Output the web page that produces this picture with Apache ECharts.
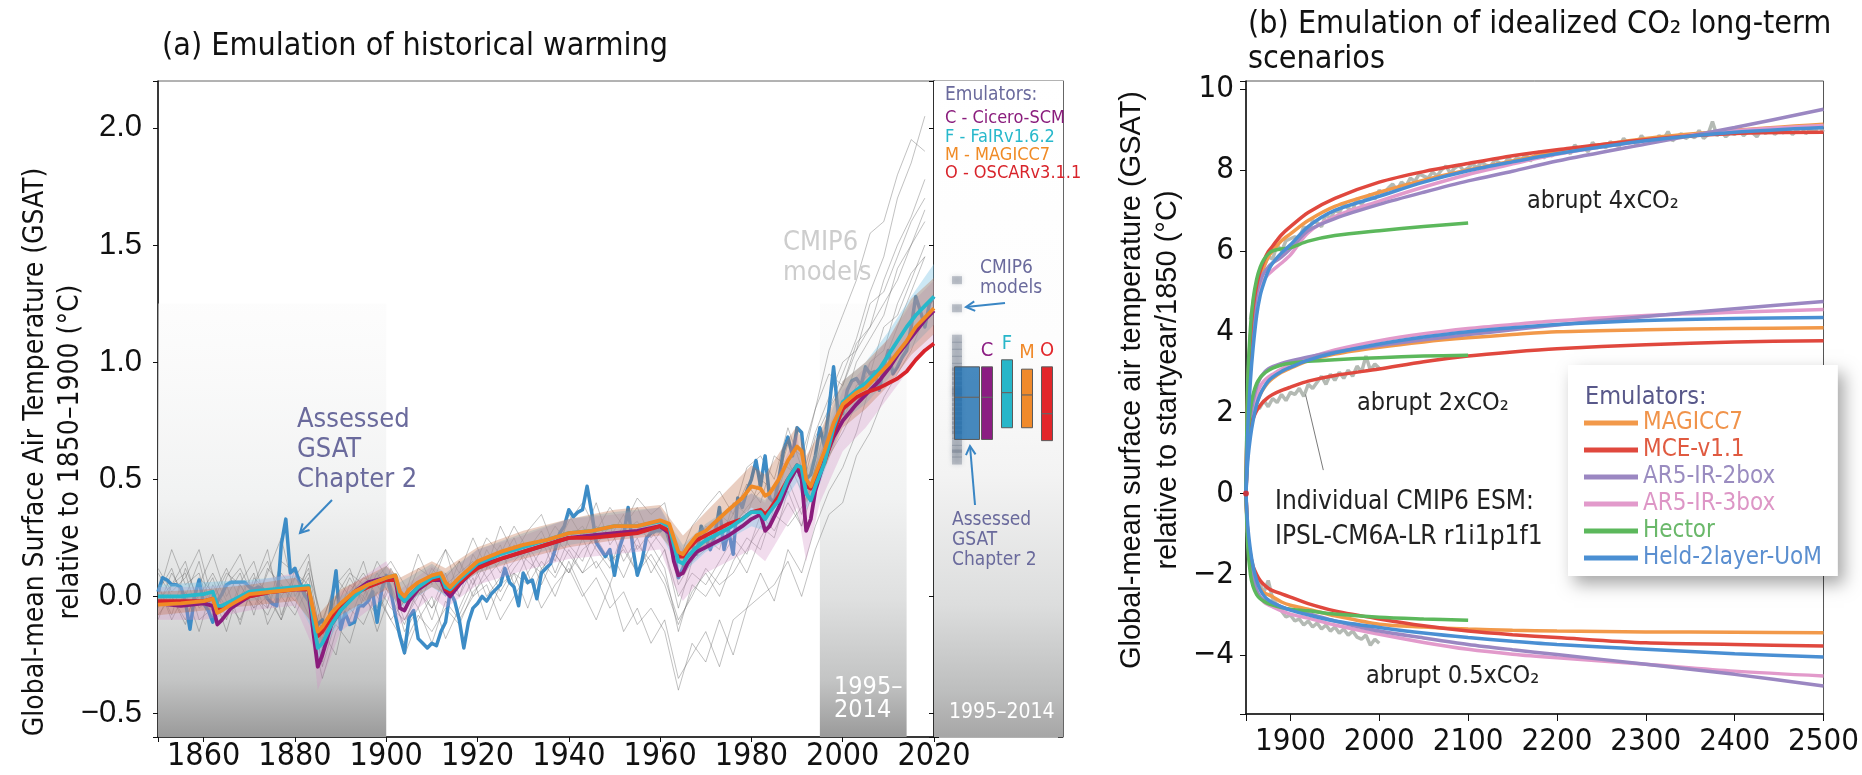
<!DOCTYPE html>
<html><head><meta charset="utf-8">
<script src="https://cdn.jsdelivr.net/npm/echarts@6/dist/echarts.min.js"></script>
<style>html,body{margin:0;padding:0;background:#fff}#c{width:1862px;height:775px}</style>
</head><body><div id="c"></div>
<script>
// ---------------- Panel (a) data ----------------
const cmipYears = [1850,1853,1856,1859,1862,1865,1868,1871,1874,1877,1880,1883,1886,1889,1892,1895,1898,1901,1904,1907,1910,1913,1916,1919,1922,1925,1928,1931,1934,1937,1940,1943,1946,1949,1952,1955,1958,1961,1964,1967,1970,1973,1976,1979,1982,1985,1988,1991,1994,1997,2000,2003,2006,2009,2012,2015,2018];
const cmipModel1 = [0.05,-0.08,0.12,-0.02,0.08,-0.1,0.06,0.15,-0.05,0.1,0.02,0.12,-0.22,-0.05,0.08,-0.02,0.1,0.0,-0.12,0.05,-0.05,0.1,-0.08,0.05,0.15,0.02,0.12,0.2,0.05,0.18,0.1,0.25,0.12,0.2,0.08,0.22,0.15,0.05,-0.12,0.02,0.1,0.0,0.15,0.25,0.2,0.38,0.5,0.35,0.55,0.8,0.95,1.1,1.3,1.45,1.7,1.85,2.05];
const cmipModel2 = [-0.05,0.1,0.0,0.15,-0.08,0.05,-0.12,0.08,0.02,-0.1,0.12,-0.02,-0.28,0.0,-0.1,0.05,-0.15,0.02,-0.25,-0.1,0.0,-0.18,-0.05,0.08,-0.1,0.05,0.1,-0.05,0.12,0.0,0.15,0.02,-0.1,0.05,-0.15,-0.05,-0.2,-0.1,-0.35,-0.25,-0.15,-0.3,-0.1,-0.05,0.1,-0.02,0.2,0.1,0.3,0.45,0.55,0.7,0.9,1.0,1.15,1.3,1.45];
const cmipModel3 = [0.1,0.0,-0.1,0.05,0.18,0.0,0.1,-0.08,0.12,0.05,-0.05,0.15,-0.12,0.08,0.0,0.15,-0.05,0.12,0.0,0.18,0.05,0.2,0.1,0.25,0.12,0.3,0.18,0.28,0.35,0.2,0.32,0.4,0.28,0.38,0.3,0.42,0.35,0.4,0.15,0.3,0.38,0.45,0.35,0.55,0.6,0.5,0.72,0.55,0.8,0.95,0.9,1.05,1.15,1.25,1.35,1.5,1.6];
const cmipModel4 = [-0.1,0.05,0.15,-0.05,0.0,0.12,-0.02,0.05,0.2,-0.08,0.08,0.0,-0.15,-0.25,0.02,0.1,0.0,-0.1,-0.02,0.12,0.08,0.0,0.15,0.05,0.2,0.1,0.22,0.15,0.1,0.25,0.18,0.1,0.22,0.3,0.15,0.25,0.1,0.2,0.0,0.1,0.05,0.15,0.25,0.18,0.35,0.28,0.4,0.3,0.48,0.65,0.75,0.9,0.95,1.15,1.2,1.35,1.5];
const cmipModel5 = [0.0,0.2,0.05,0.1,-0.1,0.08,0.18,0.0,-0.05,0.15,0.1,0.05,-0.3,-0.1,0.05,0.0,0.15,0.05,-0.1,0.0,0.12,0.05,0.0,0.18,0.08,0.15,0.25,0.1,0.2,0.3,0.22,0.15,0.3,0.25,0.35,0.2,0.28,0.2,-0.05,0.15,0.25,0.2,0.4,0.35,0.5,0.45,0.65,0.6,0.8,1.05,1.2,1.35,1.55,1.6,1.8,1.95,1.9];
const cmipModel6 = [0.05,-0.1,0.02,-0.15,0.05,-0.05,0.0,0.1,-0.12,0.0,-0.08,0.05,-0.2,-0.12,-0.2,0.0,-0.08,0.05,-0.15,-0.05,-0.2,-0.02,-0.1,0.0,0.05,-0.1,0.0,0.1,-0.05,0.05,0.12,0.0,0.08,-0.05,0.02,-0.12,-0.05,-0.15,-0.4,-0.2,-0.28,-0.1,-0.25,-0.05,0.0,0.05,0.15,0.0,0.2,0.35,0.4,0.6,0.7,0.85,0.95,1.05,1.2];
const cmipModel7 = [0.12,0.02,0.08,0.2,-0.02,0.1,0.05,-0.05,0.1,0.25,0.0,0.1,-0.1,0.05,0.12,-0.05,0.08,0.15,0.05,-0.05,0.1,0.2,0.0,0.12,0.25,0.18,0.3,0.2,0.28,0.15,0.35,0.25,0.4,0.22,0.3,0.38,0.25,0.32,0.1,0.2,0.3,0.25,0.35,0.48,0.4,0.6,0.55,0.5,0.7,0.85,1.0,1.05,1.25,1.3,1.45,1.6,1.7];
const cmipModel8 = [-0.08,0.0,-0.12,0.08,0.02,-0.15,0.05,-0.05,0.0,-0.1,0.05,-0.08,-0.35,-0.15,-0.05,-0.12,0.02,-0.1,-0.2,-0.08,-0.15,-0.05,-0.12,0.02,0.08,-0.02,0.1,0.05,0.15,0.08,0.2,0.1,0.15,0.05,0.22,0.1,0.18,0.08,-0.1,0.0,0.12,0.05,0.1,0.2,0.3,0.25,0.45,0.3,0.55,0.7,0.8,1.0,1.1,1.2,1.4,1.5,1.65];
const cmipModel9 = [0.02,0.12,-0.05,0.0,0.1,-0.02,-0.1,0.05,0.15,0.0,0.08,0.18,-0.18,0.0,0.1,0.05,-0.08,0.08,-0.05,0.05,-0.1,0.08,0.15,0.0,0.12,0.22,0.05,0.18,0.25,0.1,0.25,0.3,0.2,0.12,0.28,0.32,0.22,0.3,0.05,0.15,0.2,0.35,0.3,0.38,0.45,0.4,0.58,0.45,0.68,0.8,0.9,1.08,1.15,1.35,1.5,1.62,1.78];
const cmipModel10 = [-0.02,0.05,0.1,-0.1,-0.05,0.05,0.12,0.0,-0.08,0.05,-0.02,0.08,-0.25,-0.08,0.0,0.08,0.05,-0.05,-0.1,0.02,-0.05,0.05,0.1,0.15,0.0,0.08,0.15,0.22,0.12,0.18,0.1,0.2,0.25,0.15,0.2,0.1,0.22,0.12,-0.15,0.05,0.0,0.1,0.2,0.1,0.25,0.35,0.3,0.38,0.5,0.6,0.7,0.82,1.0,1.05,1.25,1.38,1.45];
const cmipModels = [cmipModel1,cmipModel2,cmipModel3,cmipModel4,cmipModel5,cmipModel6,cmipModel7,cmipModel8,cmipModel9,cmipModel10];

// Assessed GSAT (Chapter 2), annual from 1850
const gsatStartYear = 1850;
const gsatValues = [
 0.02,0.08,0.07,0.05,0.05,0.04,-0.02,-0.14,0.0,0.07,
 -0.03,-0.06,-0.11,-0.02,0.01,0.05,0.06,0.06,0.06,0.06,
 0.04,0.03,0.04,0.03,-0.01,-0.03,-0.04,0.22,0.33,0.1,
 0.12,0.06,0.01,-0.02,-0.1,-0.12,-0.1,-0.16,-0.03,0.11,
 -0.14,-0.07,-0.12,-0.11,-0.04,-0.04,-0.02,0.02,-0.11,0.03,
 0.09,0.02,-0.08,-0.17,-0.24,-0.09,-0.06,-0.18,-0.2,-0.22,
 -0.2,-0.21,-0.15,-0.11,0.02,-0.02,-0.1,-0.22,-0.11,-0.05,
 -0.03,0.0,-0.02,0.01,0.03,0.05,0.12,0.06,0.04,-0.04,
 0.1,0.06,0.07,-0.01,0.1,0.12,0.14,0.2,0.27,0.3,
 0.37,0.34,0.36,0.37,0.47,0.36,0.23,0.2,0.17,0.2,
 0.09,0.2,0.26,0.38,0.21,0.09,0.15,0.25,0.27,0.28,
 0.28,0.3,0.24,0.2,0.08,0.12,0.2,0.22,0.18,0.3,
 0.25,0.2,0.26,0.38,0.2,0.28,0.18,0.42,0.38,0.45,
 0.5,0.58,0.47,0.6,0.42,0.4,0.5,0.62,0.68,0.6,
 0.72,0.7,0.5,0.52,0.6,0.72,0.64,0.8,0.98,0.78,
 0.78,0.88,0.92,0.93,0.9,0.98,0.95,0.96,0.88,0.98,
 1.05,0.95,0.98,1.02,1.05,1.15,1.28,1.22,1.15,1.25,
 1.28];

// Emulator medians (panel a)
const emuYears = [1850,1855,1860,1862,1863,1864,1866,1870,1875,1880,1883,1884,1885,1886,1888,1890,1893,1896,1900,1902,1903,1904,1905,1907,1910,1912,1913,1914,1916,1920,1925,1930,1935,1940,1945,1950,1955,1960,1962,1963,1964,1965,1966,1968,1970,1975,1978,1980,1982,1983,1984,1986,1988,1990,1991,1992,1993,1994,1996,1998,2000,2003,2005,2008,2010,2012,2014,2016,2018,2020];
const magicc7Hist = [-0.035,-0.03,-0.02,-0.01,-0.07,-0.06,-0.035,0.01,0.02,0.03, 0.035,-0.06,-0.15,-0.13,-0.07,-0.03,0.02,0.05,0.08,0.09, 0.02,0.0,0.03,0.06,0.09,0.1,0.06,0.04,0.08,0.15, 0.19,0.22,0.24,0.27,0.28,0.3,0.3,0.325,0.31,0.25, 0.19,0.18,0.21,0.26,0.28,0.37,0.42,0.47,0.46,0.43, 0.44,0.5,0.58,0.64,0.62,0.5,0.47,0.52,0.62,0.74, 0.82,0.87,0.89,0.95,0.99,1.04,1.09,1.15,1.19,1.23];
const fairHist = [0.0,0.0,0.01,0.02,-0.04,-0.04,-0.02,0.02,0.03,0.04, 0.045,-0.1,-0.22,-0.2,-0.12,-0.06,0.0,0.05,0.08,0.09, 0.0,-0.02,0.0,0.04,0.08,0.09,0.04,0.03,0.07,0.14, 0.18,0.21,0.24,0.27,0.28,0.3,0.3,0.32,0.3,0.22, 0.15,0.14,0.17,0.21,0.24,0.29,0.33,0.36,0.36,0.33, 0.36,0.41,0.5,0.56,0.55,0.44,0.41,0.47,0.57,0.72, 0.83,0.88,0.91,0.97,1.03,1.09,1.15,1.2,1.24,1.28];
const ciceroHist = [-0.03,-0.04,-0.03,-0.04,-0.12,-0.1,-0.05,0.0,0.02,0.03, 0.03,-0.15,-0.3,-0.25,-0.12,-0.06,0.02,0.06,0.08,0.08, -0.05,-0.06,-0.02,0.03,0.07,0.07,0.02,0.0,0.05,0.13, 0.16,0.19,0.22,0.25,0.26,0.27,0.28,0.3,0.27,0.15, 0.09,0.1,0.14,0.19,0.21,0.26,0.3,0.33,0.35,0.28, 0.3,0.38,0.48,0.55,0.5,0.28,0.33,0.45,0.58,0.68, 0.75,0.82,0.86,0.92,0.97,1.03,1.08,1.13,1.18,1.22];
const oscarHist = [-0.02,-0.02,-0.02,-0.01,-0.05,-0.05,-0.03,0.0,0.02,0.03, 0.03,-0.08,-0.17,-0.15,-0.09,-0.04,0.01,0.04,0.07,0.07, 0.0,-0.02,0.0,0.04,0.07,0.08,0.03,0.02,0.06,0.12, 0.16,0.19,0.22,0.25,0.25,0.26,0.27,0.3,0.28,0.22, 0.17,0.17,0.2,0.24,0.26,0.31,0.33,0.36,0.37,0.35, 0.37,0.43,0.5,0.56,0.54,0.47,0.46,0.5,0.57,0.7, 0.8,0.85,0.87,0.89,0.91,0.93,0.96,1.01,1.05,1.08];

// Emulator uncertainty ranges (panel a)
const bandYears = [1850,1860,1870,1880,1884,1885,1890,1900,1903,1910,1913,1920,1930,1940,1950,1960,1963,1965,1970,1980,1983,1990,1992,1995,2000,2005,2010,2015,2020];
const fairLow  = [-0.04,-0.03,-0.02,0.0,-0.15,-0.27,-0.1,0.04,-0.05,0.04,0.0,0.1,0.17,0.22,0.25,0.27,0.16,0.1,0.19,0.3,0.28,0.49,0.37,0.48,0.75,0.82,0.93,1.06,1.16];
const fairHigh = [0.05,0.06,0.07,0.09,-0.04,-0.15,0.0,0.13,0.06,0.14,0.1,0.2,0.27,0.33,0.36,0.38,0.28,0.22,0.31,0.44,0.41,0.65,0.53,0.65,0.92,1.0,1.13,1.28,1.42];
const magiccLow  = [-0.08,-0.06,-0.04,-0.02,-0.12,-0.22,-0.08,0.03,-0.04,0.04,0.01,0.1,0.16,0.21,0.24,0.26,0.19,0.12,0.21,0.38,0.35,0.54,0.4,0.5,0.72,0.8,0.9,1.03,1.12];
const magiccHigh = [0.02,0.03,0.05,0.08,0.0,-0.08,0.03,0.13,0.08,0.15,0.12,0.21,0.28,0.33,0.37,0.39,0.31,0.26,0.36,0.56,0.52,0.73,0.6,0.7,0.92,1.0,1.1,1.27,1.36];
const ciceroLow  = [-0.1,-0.1,-0.06,-0.04,-0.22,-0.4,-0.15,0.0,-0.12,0.0,-0.05,0.05,0.11,0.16,0.18,0.2,0.05,-0.02,0.1,0.2,0.15,0.38,0.15,0.4,0.62,0.72,0.85,0.98,1.08];
const ciceroHigh = [0.04,0.04,0.06,0.1,-0.05,-0.2,0.02,0.15,0.03,0.13,0.09,0.2,0.26,0.33,0.35,0.38,0.26,0.2,0.3,0.44,0.4,0.7,0.42,0.62,0.88,0.98,1.1,1.25,1.35];
const shadePeriods = [[1850,1900],[1995,2014]];

// Inset: 1995-2014 warming
const insetBoxNames = ['Assessed','C','F','M','O'];
const insetBoxLow  = [0.67,0.67,0.72,0.72,0.665];
const insetBoxMed  = [0.85,0.85,0.87,0.86,0.78];
const insetBoxHigh = [0.98,0.98,1.01,0.97,0.98];
const cmip6Warming = [1.35,1.23,1.1,1.07,1.04,1.01,0.98,0.96,0.94,0.92,0.9,0.88,0.87,0.85,0.83,0.81,0.79,0.77,0.75,0.73,0.71,0.69,0.66,0.63,0.61,0.58];

// ---------------- Panel (b) data ----------------
const idealYears = [1850,1852,1855,1858,1862,1866,1870,1875,1880,1890,1900,1920,1950,2000,2050,2100,2150,2200,2300,2400,2500];
const magicc4x = [0,2.4,3.7,4.4,5.0,5.35,5.6,5.85,6.0,6.25,6.42,6.75,7.1,7.45,7.75,8.0,8.22,8.45,8.78,8.98,9.13];
const mce4x    = [0,2.6,3.9,4.6,5.15,5.5,5.75,5.98,6.12,6.4,6.6,6.95,7.3,7.7,7.96,8.16,8.35,8.5,8.75,8.9,8.93];
const ar5two4x = [0,2.3,3.6,4.3,4.95,5.25,5.45,5.6,5.7,5.85,6.05,6.5,6.8,7.15,7.45,7.73,7.97,8.22,8.64,9.05,9.5];
const ar5three4x = [0,2.2,3.5,4.2,4.8,5.1,5.28,5.42,5.52,5.7,5.9,6.45,6.85,7.23,7.58,7.89,8.15,8.39,8.72,8.97,9.1];
const hector4x = [0,2.8,4.1,4.8,5.3,5.6,5.78,5.92,6.0,6.05,6.08,6.24,6.38,6.5,6.6,6.69];
const held4x   = [0,1.6,2.8,3.6,4.4,4.9,5.2,5.5,5.7,5.95,6.15,6.6,7.0,7.35,7.7,7.98,8.2,8.4,8.72,8.93,9.05];
const magicc2x = [0,1.0,1.6,1.95,2.25,2.45,2.6,2.75,2.85,3.0,3.1,3.28,3.45,3.62,3.75,3.85,3.93,4.0,4.05,4.08,4.1];
const mce2x    = [0,1.1,1.6,1.85,2.05,2.18,2.28,2.38,2.45,2.55,2.63,2.78,2.92,3.08,3.26,3.4,3.5,3.58,3.68,3.75,3.78];
const ar5two2x = [0,1.2,1.9,2.3,2.65,2.85,2.98,3.08,3.14,3.22,3.28,3.38,3.5,3.66,3.8,3.93,4.05,4.17,4.38,4.57,4.75];
const ar5three2x = [0,1.0,1.7,2.1,2.45,2.65,2.78,2.88,2.95,3.08,3.18,3.35,3.55,3.78,3.95,4.08,4.18,4.27,4.4,4.48,4.55];
const hector2x = [0,1.4,2.1,2.45,2.72,2.87,2.96,3.04,3.1,3.18,3.22,3.27,3.31,3.36,3.4,3.42];
const held2x   = [0,0.8,1.4,1.8,2.2,2.45,2.62,2.78,2.88,3.02,3.12,3.3,3.48,3.7,3.87,4.0,4.1,4.18,4.28,4.33,4.35];
const magicc05x = [0,-1.0,-1.6,-1.95,-2.2,-2.35,-2.45,-2.5,-2.55,-2.68,-2.76,-2.86,-3.02,-3.23,-3.3,-3.35,-3.38,-3.4,-3.42,-3.43,-3.44];
const mce05x    = [0,-1.0,-1.5,-1.8,-2.0,-2.15,-2.25,-2.34,-2.4,-2.48,-2.56,-2.72,-2.9,-3.1,-3.27,-3.4,-3.49,-3.56,-3.69,-3.73,-3.77];
const ar5two05x = [0,-1.1,-1.75,-2.1,-2.4,-2.55,-2.63,-2.68,-2.7,-2.8,-2.87,-2.97,-3.15,-3.4,-3.57,-3.73,-3.86,-3.98,-4.22,-4.47,-4.76];
const ar5three05x = [0,-1.0,-1.7,-2.1,-2.4,-2.58,-2.68,-2.75,-2.8,-2.9,-2.98,-3.08,-3.25,-3.48,-3.68,-3.85,-3.97,-4.06,-4.22,-4.39,-4.51];
const hector05x = [0,-1.3,-2.0,-2.3,-2.5,-2.6,-2.66,-2.72,-2.76,-2.82,-2.86,-2.9,-2.98,-3.06,-3.1,-3.13];
const held05x   = [0,-0.8,-1.4,-1.8,-2.15,-2.38,-2.52,-2.63,-2.7,-2.8,-2.88,-3.0,-3.15,-3.31,-3.45,-3.56,-3.65,-3.73,-3.85,-3.96,-4.04];

// IPSL-CM6A-LR r1i1p1f1, 5-year values starting 1855
const ipslStartYear = 1855, ipslStep = 5;
const ipsl4x = [4.3,5.0,5.5,5.6,5.85,5.8,6.15,6.0,6.25,6.3, 6.35,6.3,6.6,6.45,6.75,6.7,6.6,6.9,6.8,7.0, 6.95,7.15,7.05,7.0,7.3,7.15,7.3,7.4,7.28,7.5, 7.4,7.55,7.65,7.5,7.7,7.6,7.8,7.72,7.9,7.85, 7.8,7.95,7.85,8.0,8.1,7.92,8.05,8.12,7.98,8.05, 8.15,8.05,8.2,8.12,8.08,8.25,8.18,8.12,8.3,8.2, 8.3,8.25,8.38,8.22,8.35,8.45,8.3,8.4,8.35,8.5, 8.42,8.5,8.4,8.62,8.48,8.55,8.45,8.68,8.55,8.62, 8.55,8.7,8.62,8.58,8.78,8.65,8.72,8.62,8.85,8.72, 8.78,8.7,8.85,8.76,8.95,8.72,8.82,8.9,8.78,8.85, 8.8,8.98,8.78,8.88,9.2,8.85,8.95,8.82,8.92,8.88, 8.98,8.85,8.95,8.92,8.82,9.0,8.9,9.05,8.88,8.96, 8.92,9.02,8.88,8.98,9.05,8.9,9.0,8.95,9.08,8.94];
const ipsl2x = [1.8,2.2,2.1,2.3,2.15,2.35,2.25,2.45,2.3,2.5,2.45,2.6,2.4,2.7,2.6,2.75,2.9,2.7,2.95,2.8,3.0,2.85,3.05,2.9,3.15,3.0,3.4,3.05,3.2,3.1];
const ipsl05x = [-1.9,-2.3,-2.2,-2.45,-2.15,-2.6,-2.75,-2.9,-3.05,-3.0,-3.15,-3.1,-3.25,-3.15,-3.3,-3.2,-3.35,-3.25,-3.4,-3.3,-3.45,-3.35,-3.5,-3.4,-3.55,-3.6,-3.5,-3.75,-3.6,-3.7];

// ---------------- styling ----------------
const NARROW = "'Liberation Sans Narrow','Arial Narrow','DejaVu Sans Condensed',sans-serif";
const REG = "'Liberation Sans',Arial,'DejaVu Sans',sans-serif";
const A_YMIN = -0.6, A_YMAX = 2.2, B_YMIN = -5.45, B_YMAX = 10.2;
const SLATE = '#6a6a9c';

const emuColorsA = {cicero:'#8a1c7c', fair:'#27b8cb', magicc:'#f08a24', oscar:'#d8232a', gsat:'#3d8cc6'};
const emuB = [
  {name:'MAGICC7', color:'#f2994a', text:'#f0934a', d:[magicc4x,magicc2x,magicc05x]},
  {name:'AR5-IR-3box', color:'#e29acb', text:'#dd96c6', d:[ar5three4x,ar5three2x,ar5three05x]},
  {name:'AR5-IR-2box', color:'#9b87c2', text:'#9a8cc0', d:[ar5two4x,ar5two2x,ar5two05x]},
  {name:'MCE-v1.1', color:'#e0483e', text:'#e05a40', d:[mce4x,mce2x,mce05x]},
  {name:'Hector', color:'#5cb85c', text:'#6ab86a', d:[hector4x,hector2x,hector05x]},
  {name:'Held-2layer-UoM', color:'#4a8fd3', text:'#5b8fd0', d:[held4x,held2x,held05x]}
];
const legendOrder = ['MAGICC7','MCE-v1.1','AR5-IR-2box','AR5-IR-3box','Hector','Held-2layer-UoM'];

const pairs = (xs, ys) => ys.map((v, i) => [xs[i], v]);
const minus = v => (v < 0 ? '\u2212' : '') + Math.abs(v);

const series = [];
// background shading (panel a)
series.push({
  type:'line', xAxisIndex:0, yAxisIndex:0, data:[[1850,-5]], showSymbol:false, silent:true,
  lineStyle:{opacity:0},
  markArea:{silent:true, z:1,
    itemStyle:{color: new echarts.graphic.LinearGradient(0,0,0,1,[
      {offset:0,color:'rgba(250,250,250,0.5)'},{offset:0.45,color:'#f1f2f2'},{offset:0.68,color:'#dfe0e0'},
      {offset:0.87,color:'#c3c4c4'},{offset:1,color:'#9a9a9a'}])},
    data: shadePeriods.map(p => [{xAxis:p[0], yAxis:1.25},{xAxis:p[1], yAxis:A_YMIN}])
  }
});
// CMIP6 models
cmipModels.forEach((m, k) => series.push({
  name:'CMIP6 model ' + (k+1), type:'line', xAxisIndex:0, yAxisIndex:0, data:pairs(cmipYears, m),
  showSymbol:false, silent:true, z:2, lineStyle:{color:'rgba(100,100,100,0.4)', width:1}
}));
// Assessed GSAT
series.push({name:'Assessed GSAT', type:'line', xAxisIndex:0, yAxisIndex:0,
  data: gsatValues.map((v,i) => [gsatStartYear + i, v]), showSymbol:false, silent:true, z:3,
  lineStyle:{color:emuColorsA.gsat, width:3.5, join:'round'}});
// uncertainty bands, drawn as one polygon each through the axes' scales
function band(id, low, high, color){
  series.push({name:id, type:'custom', xAxisIndex:0, yAxisIndex:0, z:4, silent:true,
    data: bandYears.map((y,i) => [y, low[i], high[i]]),
    renderItem: function(params, api){
      if (params.dataIndex !== 0) return null;
      const top = bandYears.map((y,i) => api.coord([y, high[i]]));
      const bot = bandYears.map((y,i) => api.coord([y, low[i]])).reverse();
      return {type:'polygon', shape:{points: top.concat(bot)}, style:{fill:color}};
    }});
}
band('bandCicero', ciceroLow, ciceroHigh, 'rgba(210,140,195,0.30)');
band('bandFair', fairLow, fairHigh, 'rgba(120,195,228,0.38)');
band('bandMagicc', magiccLow, magiccHigh, 'rgba(190,105,65,0.32)');
// emulator medians
[['Cicero-SCM', ciceroHist, emuColorsA.cicero],['OSCARv3.1.1', oscarHist, emuColorsA.oscar],
 ['FaIRv1.6.2', fairHist, emuColorsA.fair],['MAGICC7 hist', magicc7Hist, emuColorsA.magicc]].forEach((e,k) =>
  series.push({name:e[0], type:'line', xAxisIndex:0, yAxisIndex:0, data:pairs(emuYears, e[1]),
    showSymbol:false, silent:true, z:5+k, lineStyle:{color:e[2], width:3.8, join:'round'}}));

// inset background
series.push({type:'line', xAxisIndex:1, yAxisIndex:2, data:[[0,-5]], showSymbol:false, silent:true, lineStyle:{opacity:0},
  markArea:{silent:true, z:1, itemStyle:{color:new echarts.graphic.LinearGradient(0,0,0,1,[
    {offset:0,color:'#ffffff'},{offset:0.4,color:'#fdfdfd'},{offset:0.6,color:'#f3f3f3'},{offset:0.8,color:'#dcdddd'},
    {offset:0.93,color:'#bdbebe'},{offset:1,color:'#a6a6a6'}])},
    data:[[{yAxis:A_YMAX},{yAxis:A_YMIN}]]}});
// CMIP6 dots
series.push({name:'CMIP6 1995-2014', type:'scatter', xAxisIndex:1, yAxisIndex:2, z:3, silent:true,
  data: cmip6Warming.map(v => [0, v]), symbol:'rect', symbolSize:[10,8], symbolOffset:[-10,0],
  itemStyle:{color:'rgba(95,105,125,0.45)', shadowBlur:5, shadowColor:'rgba(90,100,120,0.6)'}});
// boxes
const boxColors = ['rgba(31,111,176,0.82)', '#8b1d82', '#27b6c9', '#f08a2b', '#e2262a'];
series.push({name:'Ranges 1995-2014', type:'custom', xAxisIndex:1, yAxisIndex:2, z:4, silent:true,
  data: insetBoxNames.map((n,i) => [i, insetBoxLow[i], insetBoxMed[i], insetBoxHigh[i]]),
  renderItem: function(params, api){
    const i = api.value(0);
    const pHi = api.coord([i, api.value(3)]), pLo = api.coord([i, api.value(1)]), pMed = api.coord([i, api.value(2)]);
    const w = i === 0 ? 25 : 11;
    const col = boxColors[params.dataIndex];
    const ch = [
      {type:'rect', shape:{x:pHi[0]-w/2, y:pHi[1], width:w, height:pLo[1]-pHi[1]}, style:{fill:col, stroke:'#5a5a5a', lineWidth:1}},
      {type:'line', shape:{x1:pHi[0]-w/2, y1:pMed[1], x2:pHi[0]+w/2, y2:pMed[1]}, style:{stroke:'#666', lineWidth:1.2}}
    ];
    if (i > 0) ch.push({type:'text', x:pHi[0], y:pHi[1]-6, style:{text:insetBoxNames[i], align:'center', verticalAlign:'bottom', fill:col, fontSize:20, fontFamily:NARROW}});
    return {type:'group', children:ch};
  }});

// panel (b): IPSL
[ipsl4x, ipsl2x, ipsl05x].forEach((arr, k) => series.push({
  name:'IPSL ' + k, type:'line', xAxisIndex:2, yAxisIndex:4, silent:true, z:2, showSymbol:false,
  data: arr.map((v,i) => [ipslStartYear + i*ipslStep, v]), lineStyle:{color:'#b4bab4', width:3.5},
  markLine: k === 1 ? {silent:true, symbol:'none', label:{show:false}, lineStyle:{color:'#7a7a7a', width:1, type:'solid'},
    data:[[{coord:[1937,0.58]},{coord:[1917,2.45]}]]} : undefined
}));
emuB.forEach((e, k) => e.d.forEach(arr => series.push({
  name:e.name, type:'line', xAxisIndex:2, yAxisIndex:4, silent:true, z:3+k, showSymbol:false, smooth:0.3,
  color:e.color, data:pairs(idealYears, arr), lineStyle:{color:e.color, width:3.5}
})));
series.push({name:'start', type:'scatter', xAxisIndex:2, yAxisIndex:4, z:20, silent:true, symbolSize:6,
  data:[[idealYears[0], mce4x[0]]], itemStyle:{color:'#e02020'}});

// ---------------- graphics ----------------
function txt(text, x, y, size, color, family, o){
  o = o || {};
  const el = {type:'text', x:x, y:y, z:100, silent:true,
    style:{text:text, fill:color, fontSize:size, fontFamily:family, align:o.align||'left', verticalAlign:o.va||'middle'}};
  if (o.lh) el.style.lineHeight = o.lh;
  if (o.rot != null) el.rotation = o.rot;
  return el;
}
function arrow(x1,y1,x2,y2,color){
  const ang = Math.atan2(y2-y1, x2-x1), L = 10, a = 0.5;
  const p1 = [x2 - L*Math.cos(ang-a), y2 - L*Math.sin(ang-a)];
  const p2 = [x2 - L*Math.cos(ang+a), y2 - L*Math.sin(ang+a)];
  return [
    {type:'line', z:100, silent:true, shape:{x1:x1,y1:y1,x2:x2,y2:y2}, style:{stroke:color, lineWidth:2}},
    {type:'polyline', z:100, silent:true, shape:{points:[p1,[x2,y2],p2]}, style:{stroke:color, lineWidth:2, fill:null}}
  ];
}
const graphics = [
  txt('(a) Emulation of historical warming', 162, 47, 32, '#111', NARROW),
  txt('(b) Emulation of idealized CO\u2082 long-term', 1248, 25, 32, '#111', NARROW),
  txt('scenarios', 1248, 60, 32, '#111', NARROW),
  txt('Global-mean Surface Air Temperature (GSAT)', 36, 452, 28, '#111', NARROW, {align:'center', rot:Math.PI/2}),
  txt('relative to 1850\u20131900 (\u00B0C)', 71, 452, 28, '#111', NARROW, {align:'center', rot:Math.PI/2}),
  txt('Global-mean surface air temperature (GSAT)', 1132, 380, 29, '#111', REG, {align:'center', rot:Math.PI/2}),
  txt('relative to startyear/1850 (\u00B0C)', 1168, 380, 29, '#111', REG, {align:'center', rot:Math.PI/2}),
  txt('Assessed\nGSAT\nChapter 2', 297, 405, 27, SLATE, NARROW, {va:'top', lh:30}),
  txt('CMIP6\nmodels', 783, 228, 27, '#cdcdcd', NARROW, {va:'top', lh:30}),
  txt('1995\u2013\n2014', 834, 676, 25, '#ffffff', NARROW, {va:'top', lh:23}),
  txt('Emulators:', 945, 95, 19, SLATE, NARROW),
  txt('C - Cicero-SCM', 945, 118, 18, emuColorsA.cicero, NARROW),
  txt('F - FaIRv1.6.2', 945, 137, 18, emuColorsA.fair, NARROW),
  txt('M - MAGICC7', 945, 155, 18, emuColorsA.magicc, NARROW),
  txt('O - OSCARv3.1.1', 945, 173, 18, emuColorsA.oscar, NARROW),
  txt('CMIP6\nmodels', 980, 258, 19, SLATE, NARROW, {va:'top', lh:20}),
  txt('Assessed\nGSAT\nChapter 2', 952, 510, 19, SLATE, NARROW, {va:'top', lh:20}),
  txt('1995\u20132014', 949, 713, 21, '#ffffff', NARROW),
  txt('abrupt 4xCO\u2082', 1527, 201, 25, '#222', NARROW),
  txt('abrupt 2xCO\u2082', 1357, 403, 25, '#222', NARROW),
  txt('abrupt 0.5xCO\u2082', 1366, 676, 25, '#222', NARROW),
  txt('Individual CMIP6 ESM:', 1275, 502, 26, '#222', NARROW),
  txt('IPSL-CM6A-LR r1i1p1f1', 1275, 537, 26, '#222', NARROW),
  txt('Emulators:', 1585, 397, 25, '#58588a', NARROW)
].concat(arrow(332,500,300,533,'#3a86c4'), arrow(1005,303,966,307,'#3a86c4'), arrow(975,505,970,446,'#3a86c4'));

// ---------------- chart ----------------
const tickLbl = (size, fam) => ({color:'#111', fontSize:size, fontFamily:fam});
const option = {
  animation:false,
  backgroundColor:'#fff',
  grid:[
    {left:158, top:81, width:776, height:656, show:true, borderColor:'#666', borderWidth:1, backgroundColor:'transparent'},
    {left:934, top:81, width:129, height:656, show:true, borderColor:'#666', borderWidth:1, backgroundColor:'transparent'},
    {left:1246, top:81, width:588, height:633, show:true, borderColor:'#555', borderWidth:1, backgroundColor:'transparent'}
  ],
  xAxis:[
    {gridIndex:0, type:'value', min:1850, max:2020, splitNumber:8, splitLine:{show:false},
     axisLine:{onZero:false, lineStyle:{color:'#111', width:1.5}}, axisTick:{length:5, lineStyle:{color:'#111'}},
     axisLabel:Object.assign(tickLbl(32, NARROW), {margin:4, formatter:v => (v % 20 === 0 ? String(v) : '')})},
    {gridIndex:1, type:'value', min:-1.65, max:4.8, show:false, axisLine:{onZero:false}},
    {gridIndex:2, type:'value', min:1850, max:2500, splitNumber:7, splitLine:{show:false},
     axisLine:{onZero:false, lineStyle:{color:'#111', width:1.5}}, axisTick:{length:7, lineStyle:{color:'#111'}},
     axisLabel:Object.assign(tickLbl(31, NARROW), {margin:12, formatter:v => (v % 100 === 0 ? String(v) : '')})}
  ],
  yAxis:[
    {gridIndex:0, type:'value', min:A_YMIN, max:A_YMAX, splitNumber:6, splitLine:{show:false},
     axisLine:{show:true, onZero:false, lineStyle:{color:'#111', width:1.5}}, axisTick:{show:true, length:5, lineStyle:{color:'#111'}},
     axisLabel:Object.assign(tickLbl(31, REG), {margin:16, formatter:v => {
        const r = Math.round(v*2); if (Math.abs(v*2 - r) > 1e-6) return '';
        return (v < -1e-9 ? '\u2212' : '') + Math.abs(v).toFixed(1); }})},
    {gridIndex:0, type:'value', position:'right', min:A_YMIN, max:A_YMAX, splitNumber:6, splitLine:{show:false},
     axisLine:{show:false, onZero:false}, axisLabel:{show:false}, axisTick:{show:true, inside:true, length:5, lineStyle:{color:'#111'}}},
    {gridIndex:1, type:'value', position:'left', min:A_YMIN, max:A_YMAX, splitNumber:6, splitLine:{show:false},
     axisLine:{show:true, onZero:false, lineStyle:{color:'#111', width:1.5}}, axisLabel:{show:false},
     axisTick:{show:true, inside:true, length:5, lineStyle:{color:'#111'}}},
    {gridIndex:1, type:'value', position:'right', min:A_YMIN, max:A_YMAX, splitNumber:6, splitLine:{show:false},
     axisLine:{show:true, onZero:false, lineStyle:{color:'#666', width:1}}, axisLabel:{show:false},
     axisTick:{show:true, inside:true, length:5, lineStyle:{color:'#444'}}},
    {gridIndex:2, type:'value', min:B_YMIN, max:B_YMAX, splitNumber:8, splitLine:{show:false},
     axisLine:{show:true, onZero:false, lineStyle:{color:'#111', width:1.5}}, axisTick:{show:true, length:6, lineStyle:{color:'#111'}},
     axisLabel:Object.assign(tickLbl(31, NARROW), {margin:12, formatter:v => {
        const r = Math.round(v); if (Math.abs(v - r) > 1e-6 || r % 2 !== 0) return ''; return minus(r); }})}
  ],
  legend:{
    data: legendOrder.map(n => { const e = emuB.find(x => x.name === n); return {name:n, textStyle:{color:e.text}}; }),
    orient:'vertical', left:1568, top:365, padding:[46,16,6,16], itemGap:3, itemWidth:54, itemHeight:5, icon:'rect',
    backgroundColor:'#ffffff', shadowBlur:16, shadowColor:'rgba(0,0,0,0.35)', shadowOffsetX:6, shadowOffsetY:8,
    selectedMode:false, textStyle:{fontFamily:NARROW, fontSize:24}
  },
  graphic:{elements:graphics},
  series: series
};
const chart = echarts.init(document.getElementById('c'));
chart.setOption(option);
</script></body></html>
